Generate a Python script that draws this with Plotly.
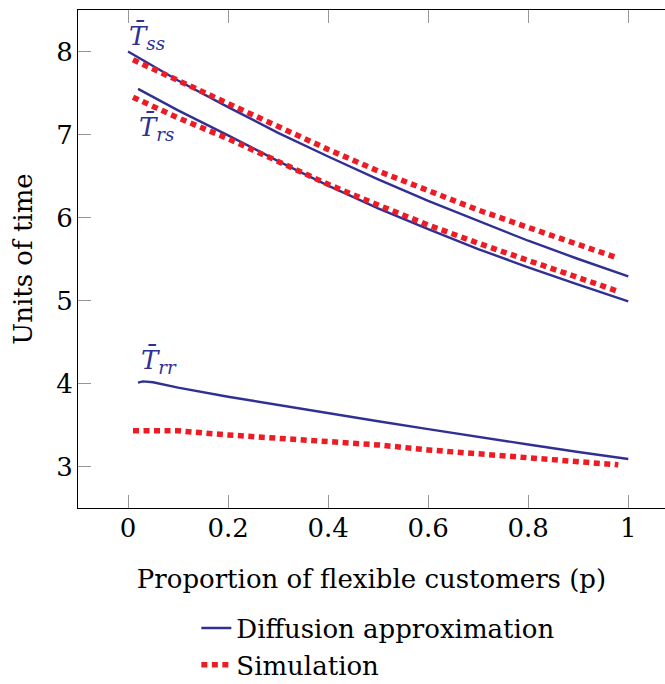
import plotly.graph_objects as go

# Proportion of flexible customers (p) and mean times
p_diff_ss = [0.0, 0.1, 0.2, 0.3, 0.4, 0.5, 0.6, 0.7, 0.8, 0.9, 1.0]
diff_ss = [8.00, 7.65, 7.33, 7.02, 6.735, 6.46, 6.20, 5.96, 5.72, 5.50, 5.29]

p_diff_rs = [0.02, 0.1, 0.2, 0.3, 0.4, 0.5, 0.6, 0.7, 0.8, 0.9, 1.0]
diff_rs = [7.55, 7.29, 6.99, 6.68, 6.385, 6.11, 5.86, 5.62, 5.40, 5.19, 4.99]

p_diff_rr = [0.02, 0.03, 0.05, 0.1, 0.2, 0.3, 0.4, 0.5, 0.6, 0.7, 0.8, 0.9, 1.0]
diff_rr = [4.01, 4.025, 4.015, 3.95, 3.84, 3.74, 3.64, 3.545, 3.45, 3.355, 3.265, 3.175, 3.09]

p_sim = [0.01, 0.1, 0.2, 0.3, 0.4, 0.5, 0.6, 0.7, 0.8, 0.9, 0.98]
sim_ss = [7.90, 7.65, 7.37, 7.09, 6.82, 6.56, 6.32, 6.09, 5.88, 5.68, 5.51]
sim_rs = [7.45, 7.20, 6.95, 6.67, 6.40, 6.15, 5.91, 5.69, 5.48, 5.28, 5.11]
sim_rr = [3.43, 3.43, 3.38, 3.34, 3.30, 3.26, 3.20, 3.15, 3.10, 3.06, 3.02]

x_ticks = [0, 0.2, 0.4, 0.6, 0.8, 1]
x_tick_text = ["0", "0.2", "0.4", "0.6", "0.8", "1"]
y_ticks = [3, 4, 5, 6, 7, 8]
y_tick_text = ["3", "4", "5", "6", "7", "8"]

curve_labels = ["T\u0304<sub>ss</sub>", "T\u0304<sub>rs</sub>", "T\u0304<sub>rr</sub>"]
label_pos = [(0.037, 8.17), (0.057, 7.08), (0.061, 4.27)]

BLUE = "rgb(48,48,148)"
RED = "rgb(237,28,36)"
FONT = "DejaVu Serif"
FS = 26

fig = go.Figure()

diff_series = [(p_diff_ss, diff_ss), (p_diff_rs, diff_rs), (p_diff_rr, diff_rr)]
for i, (px, py) in enumerate(diff_series):
    fig.add_trace(go.Scatter(
        x=px, y=py, mode="lines",
        line=dict(color=BLUE, width=2.4),
        name="Diffusion approximation",
        legendgroup="diff", showlegend=(i == 0),
    ))

for i, py in enumerate([sim_ss, sim_rs, sim_rr]):
    fig.add_trace(go.Scatter(
        x=p_sim, y=py, mode="lines",
        line=dict(color=RED, width=5.5, dash="6px,4.5px"),
        name="Simulation",
        legendgroup="sim", showlegend=(i == 0),
    ))

for text, (ax, ay) in zip(curve_labels, label_pos):
    fig.add_annotation(
        x=ax, y=ay, text="<i>" + text + "</i>", showarrow=False,
        font=dict(family=FONT, size=FS, color=BLUE),
        xanchor="center", yanchor="middle",
    )

fig.update_layout(
    width=665, height=684,
    margin=dict(l=78, r=0, t=10, b=176),
    paper_bgcolor="white", plot_bgcolor="white",
    font=dict(family=FONT, size=FS, color="black"),
    showlegend=True,
    legend=dict(
        x=0.2016, y=0.116, xanchor="left", yanchor="top",
        yref="container",
        bgcolor="rgba(0,0,0,0)", borderwidth=0,
        font=dict(family=FONT, size=FS, color="black"),
        tracegroupgap=0,
    ),
    xaxis=dict(
        range=[-0.1, 1.0734],
        tickvals=x_ticks, ticktext=x_tick_text,
        ticks="inside", ticklen=13, tickwidth=1, tickcolor="rgb(150,150,150)",
        showline=True, linecolor="black", linewidth=1.2, mirror="ticks",
        showgrid=False, zeroline=False,
        ticklabelstandoff=-3,
        title=dict(text="Proportion of flexible customers (p)", standoff=27,
                   font=dict(family=FONT, size=FS)),
    ),
    yaxis=dict(
        range=[2.5, 8.5],
        tickvals=y_ticks, ticktext=y_tick_text,
        ticks="inside", ticklen=13, tickwidth=1, tickcolor="rgb(150,150,150)",
        showline=True, linecolor="black", linewidth=1.2, mirror=False,
        showgrid=False, zeroline=False,
        ticklabelstandoff=-1,
        title=dict(text="Units of time", standoff=16,
                   font=dict(family=FONT, size=FS)),
    ),
)

fig.write_html("out.html")
